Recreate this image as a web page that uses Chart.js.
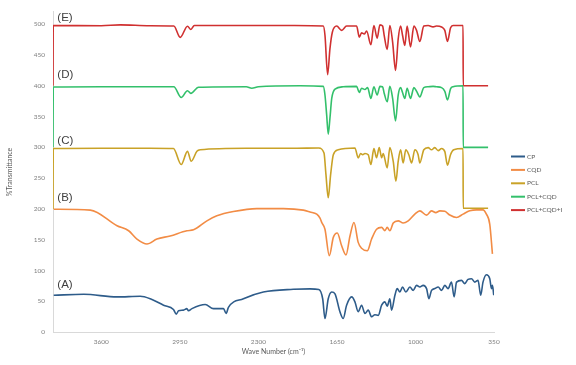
<!DOCTYPE html>
<html>
<head>
<meta charset="utf-8">
<script src="https://cdn.jsdelivr.net/npm/chart.js@4/dist/chart.umd.min.js"></script>
<style>
  html, body { margin: 0; padding: 0; background: #ffffff; }
  #wrap { width: 576px; height: 365px; }
</style>
</head>
<body>
<div id="wrap"><canvas id="c" width="576" height="365"></canvas></div>
<script>
// ---- data (wave number, %T with offsets) ----
const seriesNames = ['CP', 'CQD', 'PCL', 'PCL+CQD', 'PCL+CQD+I'];

const cpWn = [3994, 3746, 3470, 3278, 3195, 3085, 3003, 2980, 2961, 2920, 2892, 2879, 2850, 2740, 2672, 2589, 2567, 2548, 2424, 2259, 2011, 1873, 1800, 1768, 1749, 1722, 1693, 1666, 1625, 1598, 1570, 1528, 1501, 1474, 1446, 1418, 1391, 1363, 1336, 1308, 1280, 1253, 1234, 1212, 1198, 1170, 1151, 1129, 1107, 1080, 1046, 1019, 991, 964, 936, 908, 889, 867, 840, 812, 784, 757, 730, 702, 680, 660, 619, 592, 565, 536, 509, 482, 460, 441, 413, 385, 371, 363, 352];
const cpT = [59.7, 61.3, 57, 58, 54, 43.5, 36.6, 29, 34.4, 35.5, 38, 34.4, 38, 44.6, 38, 38, 30, 40, 54, 65, 69.4, 70, 69, 54, 22, 54, 65, 62, 32.8, 22, 43.5, 57, 49, 32.8, 43.5, 30, 35.5, 24.7, 28, 27, 43.5, 49, 42, 54, 35.5, 59.7, 70.5, 65, 73, 65, 73, 67.7, 75.8, 73, 75.8, 70.5, 54, 67.7, 70.5, 73, 67.7, 75.8, 70.5, 81, 57, 81, 83.9, 78.6, 85.5, 86.6, 81, 84, 59.7, 81, 93, 86.6, 70.5, 75.8, 59.7];

const cqdWn = [3994, 3691, 3470, 3374, 3305, 3222, 3140, 3030, 2892, 2837, 2726, 2644, 2507, 2313, 2093, 1928, 1873, 1817, 1790, 1776, 1749, 1713, 1680, 1647, 1611, 1575, 1542, 1509, 1474, 1446, 1399, 1363, 1322, 1280, 1253, 1234, 1212, 1184, 1143, 1102, 1060, 1005, 964, 908, 867, 832, 798, 757, 716, 660, 606, 551, 495, 441, 413, 385, 363];
const cqdT = [199.5, 198, 172.6, 164.5, 151, 143, 151, 156, 164.5, 166, 180.6, 188.7, 195.7, 200.5, 200.5, 198, 195, 191.5, 185, 178, 167, 124, 153.7, 160.8, 140, 125, 156, 178, 145.6, 136, 132, 151, 167, 170, 164.5, 170, 164.5, 177, 180.6, 177, 180.6, 191.5, 196.8, 189.8, 196.8, 194, 196.8, 196, 190, 186, 191.5, 196.8, 198.4, 198.4, 191.5, 175, 127];

const pclWn = [4000, 3998, 3600, 3200, 3003, 2939, 2887, 2856, 2809, 2782, 2400, 2000, 1800, 1757, 1741, 1722, 1702, 1680, 1639, 1501, 1474, 1454, 1437, 1418, 1391, 1369, 1344, 1322, 1300, 1280, 1267, 1234, 1212, 1184, 1162, 1143, 1123, 1102, 1080, 1055, 1032, 1005, 978, 964, 931, 895, 867, 840, 812, 784, 757, 735, 710, 683, 606, 605, 399];
const pclT = [200, 298, 298.5, 298.5, 298, 272, 293.5, 277.4, 293.5, 296, 298.5, 298.5, 299, 290.8, 256, 218, 256, 288, 296, 299, 282.8, 290, 288, 290, 288, 272, 298, 283, 299.5, 283, 290, 266.6, 299.5, 277, 245, 277, 296, 274.7, 296, 288, 274.7, 296, 288, 274.7, 296, 299.5, 296, 299.5, 294.6, 298, 293, 271, 288, 296, 298, 201, 201];

const pcqWn = [4000, 3998, 3600, 3000, 2939, 2887, 2859, 2796, 2400, 2355, 2300, 1955, 1763, 1749, 1735, 1722, 1708, 1693, 1666, 1598, 1487, 1465, 1446, 1418, 1396, 1369, 1344, 1317, 1294, 1272, 1259, 1234, 1212, 1189, 1165, 1143, 1123, 1107, 1088, 1069, 1041, 1013, 991, 964, 931, 895, 854, 826, 784, 757, 735, 710, 689, 606, 605, 399];
const pcqT = [300, 398, 398.4, 398.4, 381, 392, 387.6, 397.6, 398.4, 396, 398.4, 400, 399, 385, 352.7, 321.5, 347, 379.5, 394.7, 398.4, 399, 389, 396, 394, 397, 379.5, 398.4, 385, 399, 398.4, 388, 374, 399, 379.5, 343, 385, 397, 389, 379.5, 396, 379.5, 397, 391, 382, 397, 398.4, 399, 398.4, 397, 391, 377, 395, 398.4, 400, 300, 300];

const pcqiWn = [4000, 3998, 3600, 3443, 3200, 3000, 2947, 2887, 2859, 2830, 2400, 2000, 1763, 1749, 1727, 1708, 1688, 1652, 1611, 1570, 1487, 1465, 1446, 1424, 1404, 1369, 1344, 1317, 1294, 1272, 1259, 1234, 1212, 1189, 1165, 1143, 1123, 1107, 1088, 1069, 1041, 1013, 991, 964, 931, 895, 854, 826, 784, 757, 735, 710, 689, 606, 605, 399];
const pcqiT = [400, 498, 497.5, 499, 497.5, 497, 478.6, 496.8, 491.4, 498, 498, 498, 497, 482, 418, 460, 487, 497, 490, 497, 497, 479, 486, 484, 489, 466.6, 498, 477.4, 499, 497, 482, 459, 498, 471, 425, 476, 497, 482, 465.6, 497, 463, 497, 490, 472, 497, 498, 495.6, 497, 495.6, 490, 472, 494, 498, 498, 400, 400];

const xTicks = [3600, 2950, 2300, 1650, 1000, 350];
const yTicks = [0, 50, 100, 150, 200, 250, 300, 350, 400, 450, 500];

const tagText = ['(A)', '(B)', '(C)', '(D)', '(E)'];
const tagWn = [3964, 3964, 3964, 3964, 3964];
const tagT = [76, 218, 310, 418, 511];

// ---- build ----
const colors = ['#2E5C8A', '#F28C45', '#C9A227', '#33C06B', '#D03030'];
const wnSets = [cpWn, cqdWn, pclWn, pcqWn, pcqiWn];
const tSets = [cpT, cqdT, pclT, pcqT, pcqiT];

const datasets = seriesNames.map((name, i) => ({
  label: name,
  data: wnSets[i].map((w, k) => ({ x: w, y: tSets[i][k] })),
  borderColor: colors[i],
  backgroundColor: colors[i],
  borderWidth: 1.6,
  pointRadius: 0,
  fill: false,
  tension: 0.25,
  cubicInterpolationMode: 'monotone'
}));

const tagPlugin = {
  id: 'tags',
  afterDatasetsDraw(chart) {
    const ctx = chart.ctx;
    const xs = chart.scales.x, ys = chart.scales.y;
    ctx.save();
    ctx.font = '11.5px "Liberation Sans", Arial, sans-serif';
    ctx.fillStyle = '#404040';
    ctx.textAlign = 'left';
    ctx.textBaseline = 'middle';
    tagText.forEach((t, i) => {
      ctx.fillText(t, xs.getPixelForValue(tagWn[i]), ys.getPixelForValue(tagT[i]));
    });
    ctx.restore();
  }
};

const legendPlugin = {
  id: 'sideLegend',
  afterDraw(chart) {
    const ctx = chart.ctx;
    ctx.save();
    ctx.font = '6.5px Lato, "Open Sans", sans-serif';
    ctx.textAlign = 'left';
    ctx.textBaseline = 'middle';
    chart.data.datasets.forEach((ds, i) => {
      const y = 156.5 + i * 13.4;
      ctx.strokeStyle = ds.borderColor;
      ctx.lineWidth = 2;
      ctx.beginPath();
      ctx.moveTo(511, y);
      ctx.lineTo(525, y);
      ctx.stroke();
      ctx.fillStyle = '#595959';
      ctx.fillText(ds.label, 527, y);
    });
    ctx.restore();
  }
};

new Chart(document.getElementById('c'), {
  type: 'line',
  data: { datasets },
  options: {
    responsive: false,
    devicePixelRatio: 1,
    animation: false,
    layout: { padding: { left: 0, top: 10, right: 82, bottom: 0 } },
    plugins: { legend: { display: false }, tooltip: { enabled: false } },
    scales: {
      x: {
        type: 'linear',
        reverse: true,
        min: 350,
        max: 4000,
        afterBuildTicks: s => { s.ticks = xTicks.map(v => ({ value: v })); },
        afterFit: s => { s.height = 33; },
        grid: { display: false, drawTicks: false },
        border: { display: true, color: '#D9D9D9', width: 1 },
        ticks: { color: '#7F7F7F', font: { family: 'Lato', size: 6.5 }, padding: 6, maxRotation: 0, autoSkip: false, callback: v => String(v) },
        title: { display: true, text: 'Wave Number (cm\u207B\u00B9)', color: '#595959', font: { family: 'Lato', size: 7 }, padding: { top: 0, bottom: 9 } }
      },
      y: {
        min: 0,
        max: 520,
        afterBuildTicks: s => { s.ticks = yTicks.map(v => ({ value: v })); },
        afterFit: s => { s.width = 53; },
        grid: { display: false, drawTicks: false },
        border: { display: true, color: '#D9D9D9', width: 1 },
        ticks: { color: '#7F7F7F', font: { family: 'Lato', size: 6.5 }, padding: 8, callback: v => String(v) },
        title: { display: true, text: '%Transmittance', color: '#595959', font: { family: 'Lato', size: 7 }, padding: { top: 6, bottom: 0 } }
      }
    }
  },
  plugins: [tagPlugin, legendPlugin]
});
</script>
</body>
</html>
